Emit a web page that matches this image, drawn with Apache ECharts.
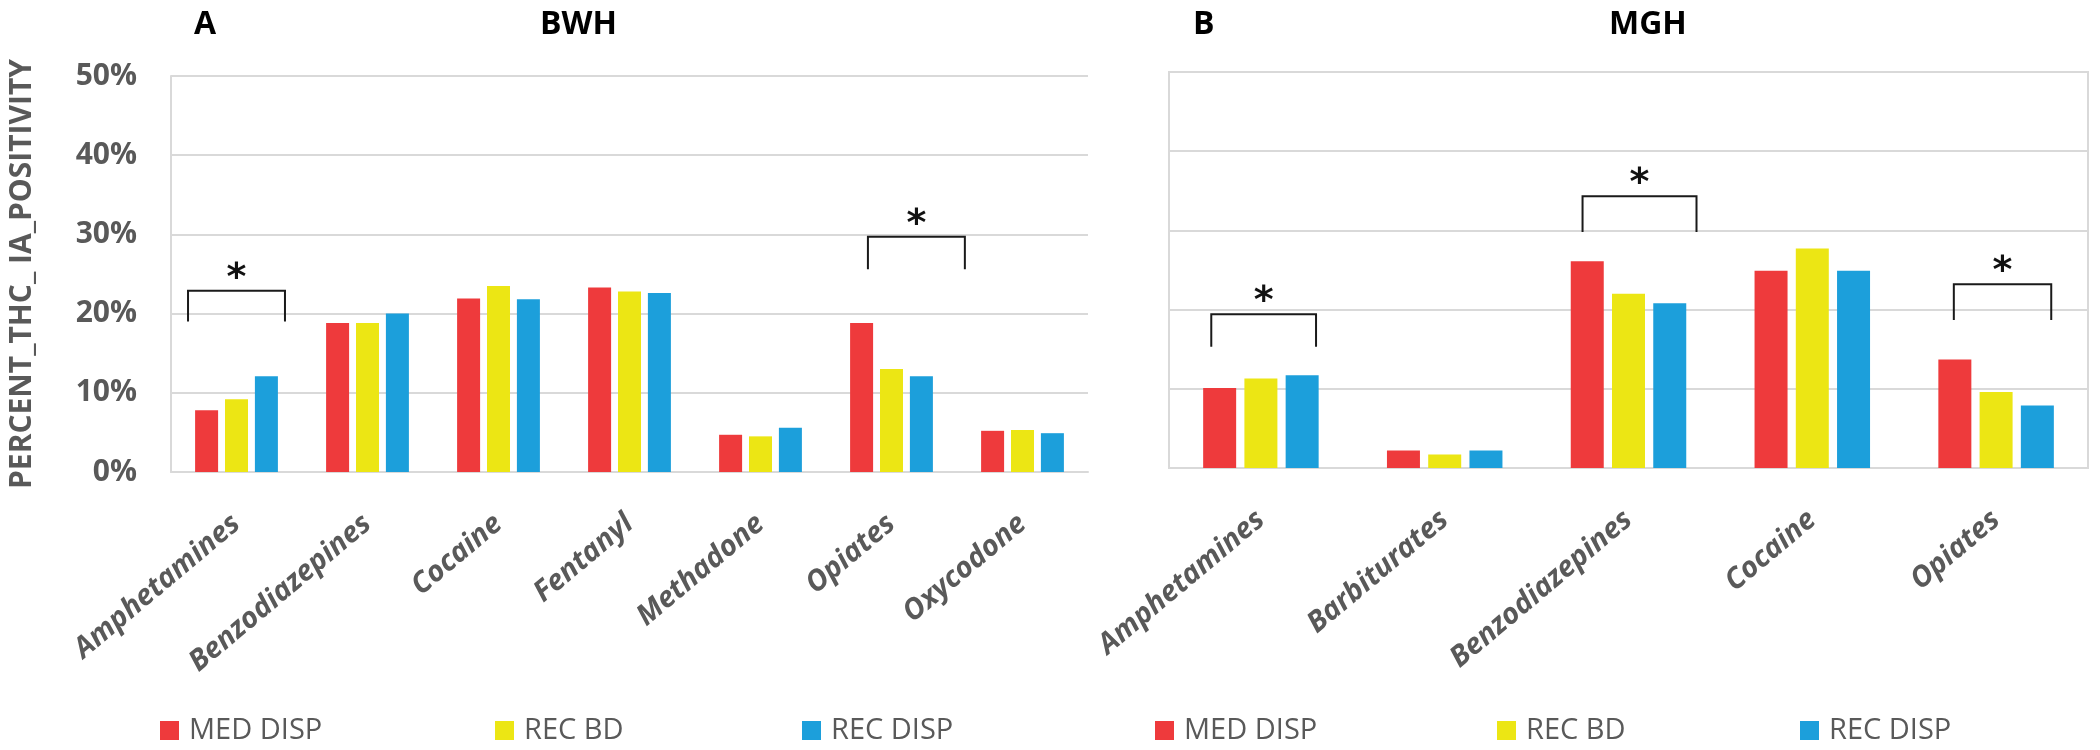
<!DOCTYPE html>
<html>
<head>
<meta charset="utf-8">
<script src="https://cdn.jsdelivr.net/npm/echarts@6/dist/echarts.min.js"></script>
<style>
html,body{margin:0;padding:0;background:#ffffff;}
#chart{width:2100px;height:750px;}
</style>
</head>
<body>
<div id="chart"></div>
<script>
// ---------------- data ----------------
const seriesNames = ['MED DISP', 'REC BD', 'REC DISP'];
const yTickValues = [0, 10, 20, 30, 40, 50];

const bwhCategories = ['Amphetamines', 'Benzodiazepines', 'Cocaine', 'Fentanyl', 'Methadone', 'Opiates', 'Oxycodone'];
const bwhMedDisp = [7.8, 18.8, 21.9, 23.3, 4.7, 18.8, 5.2];
const bwhRecBd   = [9.2, 18.8, 23.5, 22.8, 4.5, 13.0, 5.3];
const bwhRecDisp = [12.1, 20.0, 21.8, 22.6, 5.6, 12.1, 4.9];

const mghCategories = ['Amphetamines', 'Barbiturates', 'Benzodiazepines', 'Cocaine', 'Opiates'];
const mghMedDisp = [10.1, 2.2, 26.1, 24.9, 13.7];
const mghRecBd   = [11.3, 1.7, 22.0, 27.7, 9.6];
const mghRecDisp = [11.7, 2.2, 20.8, 24.9, 7.9];

// significance brackets: [category, bracket top value, leg end value]
const bwhBrackets = [['Amphetamines', 22.9, 19.0], ['Opiates', 29.7, 25.6]];
const mghBrackets = [['Amphetamines', 19.4, 15.3], ['Benzodiazepines', 34.3, 29.8], ['Opiates', 23.2, 18.7]];

// ---------------- styling ----------------
const colors = ['#EE3A3C', '#ECE614', '#1C9FDB'];
const grayText = '#595959';
const gridGray = '#d9d9d9';
const FONT = '"Open Sans", "Noto Sans", sans-serif';
// horizontal extent of each bracket, as fraction of the category band (left, right)
const bwhBracketSpans = [[-0.37, 0.37], [-0.18, 0.56]];
const mghBracketSpans = [[-0.27, 0.30], [-0.25, 0.37], [-0.23, 0.30]];

function barSeries(name, data, idx, axisIdx, width, gap) {
  return {
    name: name, type: 'bar', data: data,
    xAxisIndex: axisIdx, yAxisIndex: axisIdx,
    barWidth: width, barGap: gap,
    itemStyle: { color: colors[idx] },
    emphasis: { disabled: true },
    animation: false
  };
}

function bracketSeries(axisIdx, brackets, cats, spans) {
  return {
    type: 'custom', xAxisIndex: axisIdx, yAxisIndex: axisIdx,
    silent: true, z: 10, clip: false, animation: false,
    encode: { x: 0, y: 1 },
    data: brackets.map(b => [cats.indexOf(b[0]), b[1], b[2]]),
    renderItem: function (params, api) {
      const top = api.coord([api.value(0), api.value(1)]);
      const leg = api.coord([api.value(0), api.value(2)]);
      const band = api.size([1, 0])[0];
      const sp = spans[params.dataIndex];
      const x1 = top[0] + sp[0] * band;
      const x2 = top[0] + sp[1] * band;
      return {
        type: 'group',
        children: [
          {
            type: 'polyline',
            shape: { points: [[x1, leg[1]], [x1, top[1]], [x2, top[1]], [x2, leg[1]]] },
            style: { stroke: '#1a1a1a', lineWidth: 2, fill: null }
          },
          {
            type: 'text',
            style: {
              text: '*', x: (x1 + x2) / 2, y: top[1] - 12,
              align: 'center', verticalAlign: 'middle',
              fontSize: 38, fontWeight: 'bold',
              fontFamily: '"DejaVu Sans", sans-serif', fill: '#111'
            }
          }
        ]
      };
    }
  };
}

function legendItem(name, left) {
  return {
    data: [name], left: left, top: 716,
    icon: 'rect', itemWidth: 19, itemHeight: 19, padding: 0,
    selectedMode: false,
    textStyle: { fontSize: 29, color: grayText, fontFamily: FONT, padding: [0, 0, 0, 5] }
  };
}

const xLabelStyle = {
  rotate: 40, interval: 0, margin: 48,
  fontSize: 29, fontStyle: 'italic', fontWeight: 'bold',
  color: grayText, fontFamily: FONT
};

const chart = echarts.init(document.getElementById('chart'), null, { renderer: 'canvas' });

const option = {
  backgroundColor: '#ffffff',
  animation: false,
  title: [
    { text: 'A', left: 189, top: 4, textStyle: { fontSize: 32, fontWeight: 'bold', color: '#000', fontFamily: FONT } },
    { text: 'BWH', left: 535, top: 4, textStyle: { fontSize: 32, fontWeight: 'bold', color: '#000', fontFamily: FONT } },
    { text: 'B', left: 1188, top: 4, textStyle: { fontSize: 32, fontWeight: 'bold', color: '#000', fontFamily: FONT } },
    { text: 'MGH', left: 1604, top: 4, textStyle: { fontSize: 32, fontWeight: 'bold', color: '#000', fontFamily: FONT } }
  ],
  legend: [
    legendItem(seriesNames[0], 160),
    legendItem(seriesNames[1], 495),
    legendItem(seriesNames[2], 802),
    legendItem(seriesNames[0], 1155),
    legendItem(seriesNames[1], 1497),
    legendItem(seriesNames[2], 1800)
  ],
  grid: [
    { left: 171, top: 76, width: 917, height: 396, containLabel: false },
    { left: 1169, top: 72, width: 919, height: 396, containLabel: false,
      show: true, borderColor: gridGray, borderWidth: 2, backgroundColor: 'transparent' }
  ],
  xAxis: [
    {
      type: 'category', gridIndex: 0, data: bwhCategories,
      axisLine: { show: true, lineStyle: { color: gridGray, width: 2 } },
      axisTick: { show: false },
      axisLabel: xLabelStyle
    },
    {
      type: 'category', gridIndex: 1, data: mghCategories,
      axisLine: { show: true, lineStyle: { color: gridGray, width: 2 } },
      axisTick: { show: false },
      axisLabel: xLabelStyle
    }
  ],
  yAxis: [
    {
      type: 'value', gridIndex: 0,
      min: yTickValues[0], max: yTickValues[yTickValues.length - 1],
      interval: yTickValues[1] - yTickValues[0],
      name: 'PERCENT_THC_ IA_POSITIVITY',
      nameLocation: 'middle', nameGap: 134, nameRotate: 90,
      nameTextStyle: { fontSize: 30, fontWeight: 'bold', color: grayText, fontFamily: FONT },
      axisLine: { show: true, lineStyle: { color: gridGray, width: 2 } },
      axisTick: { show: false },
      axisLabel: { formatter: '{value}%', fontSize: 30, fontWeight: 'bold', color: grayText, margin: 34, fontFamily: FONT },
      splitLine: { show: true, lineStyle: { color: gridGray, width: 2 } }
    },
    {
      type: 'value', gridIndex: 1,
      min: yTickValues[0], max: yTickValues[yTickValues.length - 1],
      interval: yTickValues[1] - yTickValues[0],
      axisLine: { show: false },
      axisTick: { show: false },
      axisLabel: { show: false },
      splitLine: { show: true, lineStyle: { color: gridGray, width: 2 } }
    }
  ],
  series: [
    barSeries(seriesNames[0], bwhMedDisp, 0, 0, 23, '30%'),
    barSeries(seriesNames[1], bwhRecBd, 1, 0, 23, '30%'),
    barSeries(seriesNames[2], bwhRecDisp, 2, 0, 23, '30%'),
    barSeries(seriesNames[0], mghMedDisp, 0, 1, 33, '25%'),
    barSeries(seriesNames[1], mghRecBd, 1, 1, 33, '25%'),
    barSeries(seriesNames[2], mghRecDisp, 2, 1, 33, '25%'),
    bracketSeries(0, bwhBrackets, bwhCategories, bwhBracketSpans),
    bracketSeries(1, mghBrackets, mghCategories, mghBracketSpans)
  ]
};

chart.setOption(option);
</script>
</body>
</html>
